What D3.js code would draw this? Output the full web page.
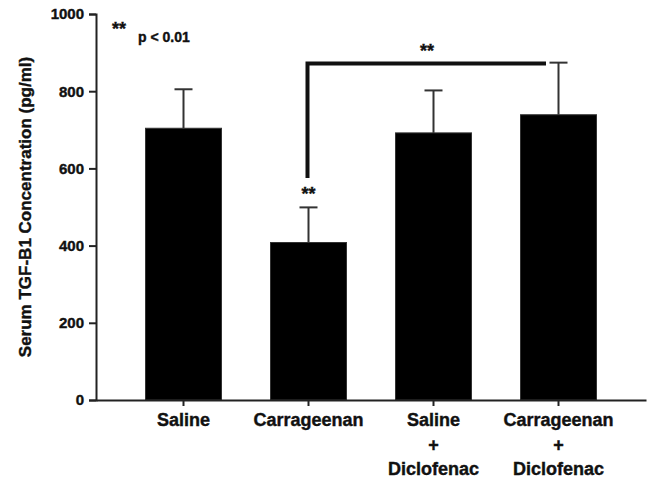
<!DOCTYPE html>
<html>
<head>
<meta charset="utf-8">
<script src="https://cdn.jsdelivr.net/npm/d3@7"></script>
<style>
  html, body { margin: 0; padding: 0; background: #fff; }
  svg text { font-family: "Liberation Sans", Arial, sans-serif; font-weight: bold; fill: #111; stroke: #111; stroke-width: 0.4px; }
</style>
</head>
<body>
<svg id="chart" width="654" height="479"></svg>
<script>
const categories = ["Saline", "Carrageenan", "Saline\n+\nDiclofenac", "Carrageenan\n+\nDiclofenac"];
const means = [704, 408, 692, 739];
const errors = [101, 91, 110, 135];
const yTicks = [0, 200, 400, 600, 800, 1000];
const yLabel = "Serum TGF-B1 Concentration (pg/ml)";

const svg = d3.select("#chart");
const x = d3.scaleBand().domain(categories).range([96, 646]).paddingInner(0.392).paddingOuter(0.396);
const y = d3.scaleLinear().domain([0, 1000]).range([400, 14]);
const axisColor = "#222";

// bars
svg.selectAll("rect.bar").data(categories).join("rect")
  .attr("class", "bar")
  .attr("x", d => x(d))
  .attr("width", x.bandwidth())
  .attr("y", (d, i) => y(means[i]))
  .attr("height", (d, i) => y(0) - y(means[i]))
  .attr("fill", "#000")
  .attr("stroke", "#333").attr("stroke-width", 1);

// error bars
const cx = d => x(d) + x.bandwidth() / 2;
svg.selectAll("line.err").data(categories).join("line")
  .attr("x1", cx).attr("x2", cx)
  .attr("y1", (d, i) => y(means[i]))
  .attr("y2", (d, i) => y(means[i] + errors[i]))
  .attr("stroke", "#333").attr("stroke-width", 2);
svg.selectAll("line.cap").data(categories).join("line")
  .attr("x1", d => cx(d) - 9).attr("x2", d => cx(d) + 9)
  .attr("y1", (d, i) => y(means[i] + errors[i]))
  .attr("y2", (d, i) => y(means[i] + errors[i]))
  .attr("stroke", "#333").attr("stroke-width", 2);

// axes
const yAxis = svg.append("g").attr("transform", "translate(96,0)")
  .call(d3.axisLeft(y).tickValues(yTicks).tickSize(7).tickPadding(5).tickFormat(d3.format("d")));
yAxis.select(".domain").attr("stroke", axisColor).attr("stroke-width", 2);
yAxis.selectAll(".tick line").attr("stroke", axisColor).attr("stroke-width", 2);
yAxis.selectAll(".tick text").attr("font-size", 15).attr("fill", "#111")
  .attr("font-family", "'Liberation Sans', Arial, sans-serif").attr("font-weight", "bold");

const xAxis = svg.append("g").attr("transform", "translate(0,400)")
  .call(d3.axisBottom(x).tickSize(6).tickSizeOuter(0).tickFormat(""));
xAxis.select(".domain").attr("stroke", axisColor).attr("stroke-width", 2);
xAxis.selectAll(".tick line").attr("stroke", axisColor).attr("stroke-width", 2);

// category labels (multi-line)
const baselines = [426, 450.5, 475];
categories.forEach(c => {
  const lines = c.split("\n");
  const t = svg.append("text").attr("text-anchor", "middle").attr("font-size", 18);
  lines.forEach((ln, k) => {
    t.append("tspan").attr("x", cx(c)).attr("y", baselines[k]).text(ln);
  });
});

// y label
svg.append("text")
  .attr("transform", "translate(31,207) rotate(-90)")
  .attr("text-anchor", "middle")
  .attr("font-size", 17)
  .text(yLabel);

// significance annotations
svg.append("text").attr("x", 112).attr("y", 35).attr("font-size", 18).text("**");
svg.append("text").attr("x", 138).attr("y", 42).attr("font-size", 14).text("p < 0.01");

const c1 = cx(categories[1]);
svg.append("text").attr("x", c1).attr("y", 200).attr("text-anchor", "middle").attr("font-size", 18).text("**");

// bracket from Carrageenan to Carrageenan + Diclofenac
const bracketY = 63.5;
svg.append("path")
  .attr("d", `M${c1 - 1},178 V${bracketY} H546`)
  .attr("fill", "none").attr("stroke", "#111").attr("stroke-width", 4);
svg.append("text").attr("x", 427).attr("y", 57).attr("text-anchor", "middle").attr("font-size", 18).text("**");
</script>
</body>
</html>
